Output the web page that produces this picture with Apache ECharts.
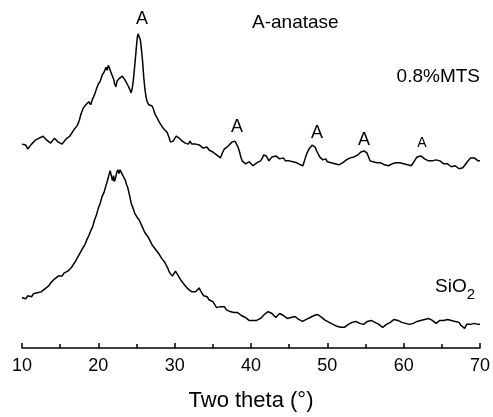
<!DOCTYPE html>
<html>
<head>
<meta charset="utf-8">
<script src="https://cdn.jsdelivr.net/npm/echarts@6/dist/echarts.min.js"></script>
<style>html,body{margin:0;padding:0;background:#fff}#c{width:493px;height:417px}</style>
</head>
<body>
<div id="c"></div>
<script>
// Two theta (degrees) and stacked intensities (arbitrary units, offset included)
var mtsTheta = [10.0,10.25,10.5,10.75,11.0,11.25,11.5,11.75,12.0,12.25,12.5,12.75,13.0,13.25,13.5,13.75,14.0,14.25,14.5,14.75,15.0,15.25,15.5,15.75,16.0,16.25,16.5,16.75,17.0,17.25,17.5,17.75,18.0,18.25,18.5,18.75,19.0,19.25,19.5,19.75,20.0,20.25,20.5,20.75,21.0,21.15,21.3,21.45,21.6,21.8,22.0,22.15,22.3,22.45,22.6,22.8,23.0,23.15,23.3,23.5,23.7,23.85,24.0,24.15,24.3,24.45,24.6,24.75,24.9,25.0,25.1,25.2,25.3,25.4,25.5,25.65,25.8,25.95,26.1,26.25,26.4,26.6,26.8,27.0,27.2,27.4,27.6,27.8,28.0,28.25,28.5,28.75,29.0,29.15,29.3,29.45,29.6,29.8,30.0,30.2,30.4,30.6,30.8,31.0,31.2,31.4,31.6,31.8,32.0,32.25,32.5,32.75,33.0,33.25,33.5,33.75,34.0,34.25,34.5,34.75,35.0,35.25,35.5,35.75,36.0,36.25,36.5,36.75,37.0,37.25,37.5,37.7,37.9,38.1,38.3,38.5,38.7,38.85,39.0,39.25,39.5,39.75,40.0,40.25,40.5,40.75,41.0,41.25,41.5,41.65,41.8,42.0,42.2,42.35,42.5,42.75,43.0,43.25,43.5,43.75,44.0,44.25,44.5,44.75,45.0,45.25,45.5,45.75,46.0,46.25,46.5,46.65,46.8,47.0,47.2,47.4,47.6,47.8,48.0,48.2,48.4,48.6,48.8,49.0,49.2,49.4,49.6,49.8,50.0,50.25,50.5,50.75,51.0,51.25,51.5,51.75,52.0,52.25,52.5,52.75,53.0,53.25,53.5,53.75,54.0,54.2,54.4,54.6,54.8,55.0,55.2,55.4,55.6,55.8,56.0,56.25,56.5,56.75,57.0,57.25,57.5,57.75,58.0,58.25,58.5,58.75,59.0,59.25,59.5,59.75,60.0,60.25,60.5,60.75,61.0,61.25,61.5,61.75,62.0,62.25,62.5,62.75,63.0,63.25,63.5,63.75,64.0,64.25,64.5,64.75,65.0,65.25,65.5,65.75,66.0,66.25,66.5,66.75,67.0,67.25,67.5,67.75,68.0,68.25,68.5,68.75,69.0,69.25,69.5,69.75,70.0];
var mtsInt = [207,205,206,202,204,207,207,211,210,213,212,215,214,211,212,208,209,213,212,209,210,207,209,212,213,215,217,221,223,226,231,238,243,246,247,250,247,253,257,263,268,271,277,280,285,282,287,284,283,277,273,268,265,271,269,274,273,276,275,272,270,267,265,262,259,264,273,285,298,307,315,319,321,318,313,303,291,275,263,255,250,247,245,246,243,238,235,233,229,230,223,224,219,216,213,209,207,210,212,215,216,213,213,210,211,208,209,207,210,207,206,207,205,206,204,203,203,204,201,200,199,197,196,194,193,198,202,203,205,206,209,208,210,208,204,199,193,190,188,187,186,189,188,185,186,188,188,190,193,196,198,195,193,190,191,194,193,195,194,192,191,193,190,191,190,188,189,190,188,187,186,184,185,190,195,199,202,204,206,205,204,200,197,194,192,191,190,192,189,190,188,189,187,188,186,187,188,190,191,190,193,192,194,195,196,198,199,198,200,199,198,194,190,188,189,187,188,186,188,187,186,186,185,187,187,189,188,186,188,187,187,185,186,184,185,188,190,194,196,195,195,192,193,190,188,190,189,191,191,190,189,187,185,187,186,184,186,185,184,182,181,183,185,188,190,193,195,193,191,190,190];
var sioTheta = [10.0,10.25,10.5,10.75,11.0,11.25,11.5,11.75,12.0,12.25,12.5,12.75,13.0,13.25,13.5,13.75,14.0,14.25,14.5,14.75,15.0,15.25,15.5,15.75,16.0,16.25,16.5,16.75,17.0,17.25,17.5,17.75,18.0,18.25,18.5,18.75,19.0,19.25,19.5,19.75,20.0,20.25,20.5,20.75,21.0,21.2,21.4,21.55,21.7,21.85,22.0,22.1,22.25,22.4,22.55,22.7,22.85,23.0,23.15,23.3,23.5,23.7,23.85,24.0,24.15,24.3,24.45,24.6,24.75,24.9,25.05,25.2,25.35,25.5,25.7,25.9,26.1,26.3,26.5,26.7,26.9,27.1,27.3,27.5,27.7,27.9,28.1,28.3,28.5,28.7,28.9,29.1,29.3,29.5,29.7,29.9,30.1,30.3,30.5,30.7,30.9,31.1,31.3,31.5,31.75,32.0,32.25,32.5,32.75,33.0,33.2,33.4,33.6,33.8,34.0,34.25,34.5,34.75,35.0,35.25,35.5,35.75,36.0,36.25,36.5,36.75,37.0,37.25,37.5,37.75,38.0,38.25,38.5,38.75,39.0,39.25,39.5,39.75,40.0,40.25,40.5,40.75,41.0,41.25,41.5,41.75,42.0,42.25,42.5,42.75,43.0,43.25,43.5,43.75,44.0,44.25,44.5,44.75,45.0,45.25,45.5,45.75,46.0,46.25,46.5,46.75,47.0,47.25,47.5,47.75,48.0,48.25,48.5,48.75,49.0,49.25,49.5,49.75,50.0,50.25,50.5,50.75,51.0,51.25,51.5,51.75,52.0,52.25,52.5,52.75,53.0,53.25,53.5,53.75,54.0,54.25,54.5,54.75,55.0,55.25,55.5,55.75,56.0,56.25,56.5,56.75,57.0,57.25,57.5,57.75,58.0,58.25,58.5,58.75,59.0,59.25,59.5,59.75,60.0,60.25,60.5,60.75,61.0,61.25,61.5,61.75,62.0,62.25,62.5,62.75,63.0,63.25,63.5,63.75,64.0,64.25,64.5,64.75,65.0,65.25,65.5,65.75,66.0,66.25,66.5,66.75,67.0,67.25,67.5,67.75,68.0,68.25,68.5,68.75,69.0,69.25,69.5,69.75,70.0];
var sioInt = [51,52,50,53,53,52,55,54,56,55,57,58,60,62,63,66,67,70,69,73,74,73,76,75,78,80,82,85,88,90,95,97,102,105,110,114,119,123,130,135,142,147,154,158,165,170,176,180,175,170,175,169,172,178,181,177,181,180,176,177,171,166,163,158,153,147,145,141,137,136,133,134,130,128,124,122,117,118,113,110,108,104,103,100,98,96,94,91,91,87,84,81,77,76,73,75,78,77,73,71,68,66,64,63,60,59,57,55,57,59,61,58,56,53,51,52,49,50,47,45,41,40,42,40,42,39,38,37,36,36,34,36,35,33,33,31,30,28,27,28,26,28,28,30,32,34,36,37,38,35,33,31,33,35,36,33,32,30,29,31,30,32,31,29,28,27,26,29,30,31,32,33,32,34,33,31,30,28,28,26,26,24,24,22,22,21,19,21,22,24,24,26,25,27,26,25,26,24,26,27,29,28,27,26,25,24,23,21,22,24,23,26,27,29,30,28,27,26,26,25,25,24,23,25,24,27,26,28,27,29,28,30,31,28,27,25,26,28,29,28,30,29,27,28,26,27,29,26,23,21,20,24,26,24,23,25,25,24,24];
var xTicks = [10,20,30,40,50,60,70];

var chart = echarts.init(document.getElementById('c'));
var font = '"Liberation Sans", Arial, sans-serif';
function pairs(xs, ys){ return xs.map(function(x,i){ return [x, ys[i]]; }); }
function txt(x, y, s, size, align){
  return {type: 'text', x: x, y: y, style: {text: s, fontSize: size, fontFamily: font, fill: '#000', align: align || 'center', verticalAlign: 'middle'}};
}
chart.setOption({
  animation: false,
  backgroundColor: '#fff',
  grid: {left: 22, right: 13, top: 20, bottom: 64},
  xAxis: {
    type: 'value', min: xTicks[0], max: xTicks[xTicks.length-1], interval: 10,
    axisLine: {lineStyle: {color: '#000', width: 1.5}},
    axisTick: {inside: true, length: 5, lineStyle: {color: '#000', width: 1.5}},
    minorTick: {show: true, splitNumber: 2, length: 4, lineStyle: {color: '#000', width: 1.5}},
    splitLine: {show: false},
    axisLabel: {color: '#000', fontSize: 18, fontFamily: font, margin: 9},
    name: 'Two theta (°)', nameLocation: 'middle', nameGap: 42,
    nameTextStyle: {color: '#000', fontSize: 22, fontFamily: font}
  },
  yAxis: {type: 'value', min: 0, max: 333, show: false},
  series: [
    {type: 'line', data: pairs(mtsTheta, mtsInt), showSymbol: false, symbol: 'none',
     lineStyle: {color: '#000', width: 1.5}},
    {type: 'line', data: pairs(sioTheta, sioInt), showSymbol: false, symbol: 'none',
     lineStyle: {color: '#000', width: 1.5}}
  ],
  graphic: [
    txt(142, 19, 'A', 18),
    txt(237, 127, 'A', 18),
    txt(317, 133, 'A', 18),
    txt(364, 140, 'A', 18),
    txt(422, 143, 'A', 14),
    txt(252, 23, 'A-anatase', 19, 'left'),
    txt(480, 77, '0.8%MTS', 19, 'right'),
    {type: 'text', x: 435, y: 277, style: {
      text: '{a|SiO}{b|2}', fill: '#000',
      rich: {a: {fontSize: 19, fontFamily: font, fill: '#000', lineHeight: 22, verticalAlign: 'top'},
             b: {fontSize: 15, fontFamily: font, fill: '#000', lineHeight: 22, verticalAlign: 'top', padding: [10,0,0,0]}}
    }}
  ]
});
</script>
</body>
</html>
